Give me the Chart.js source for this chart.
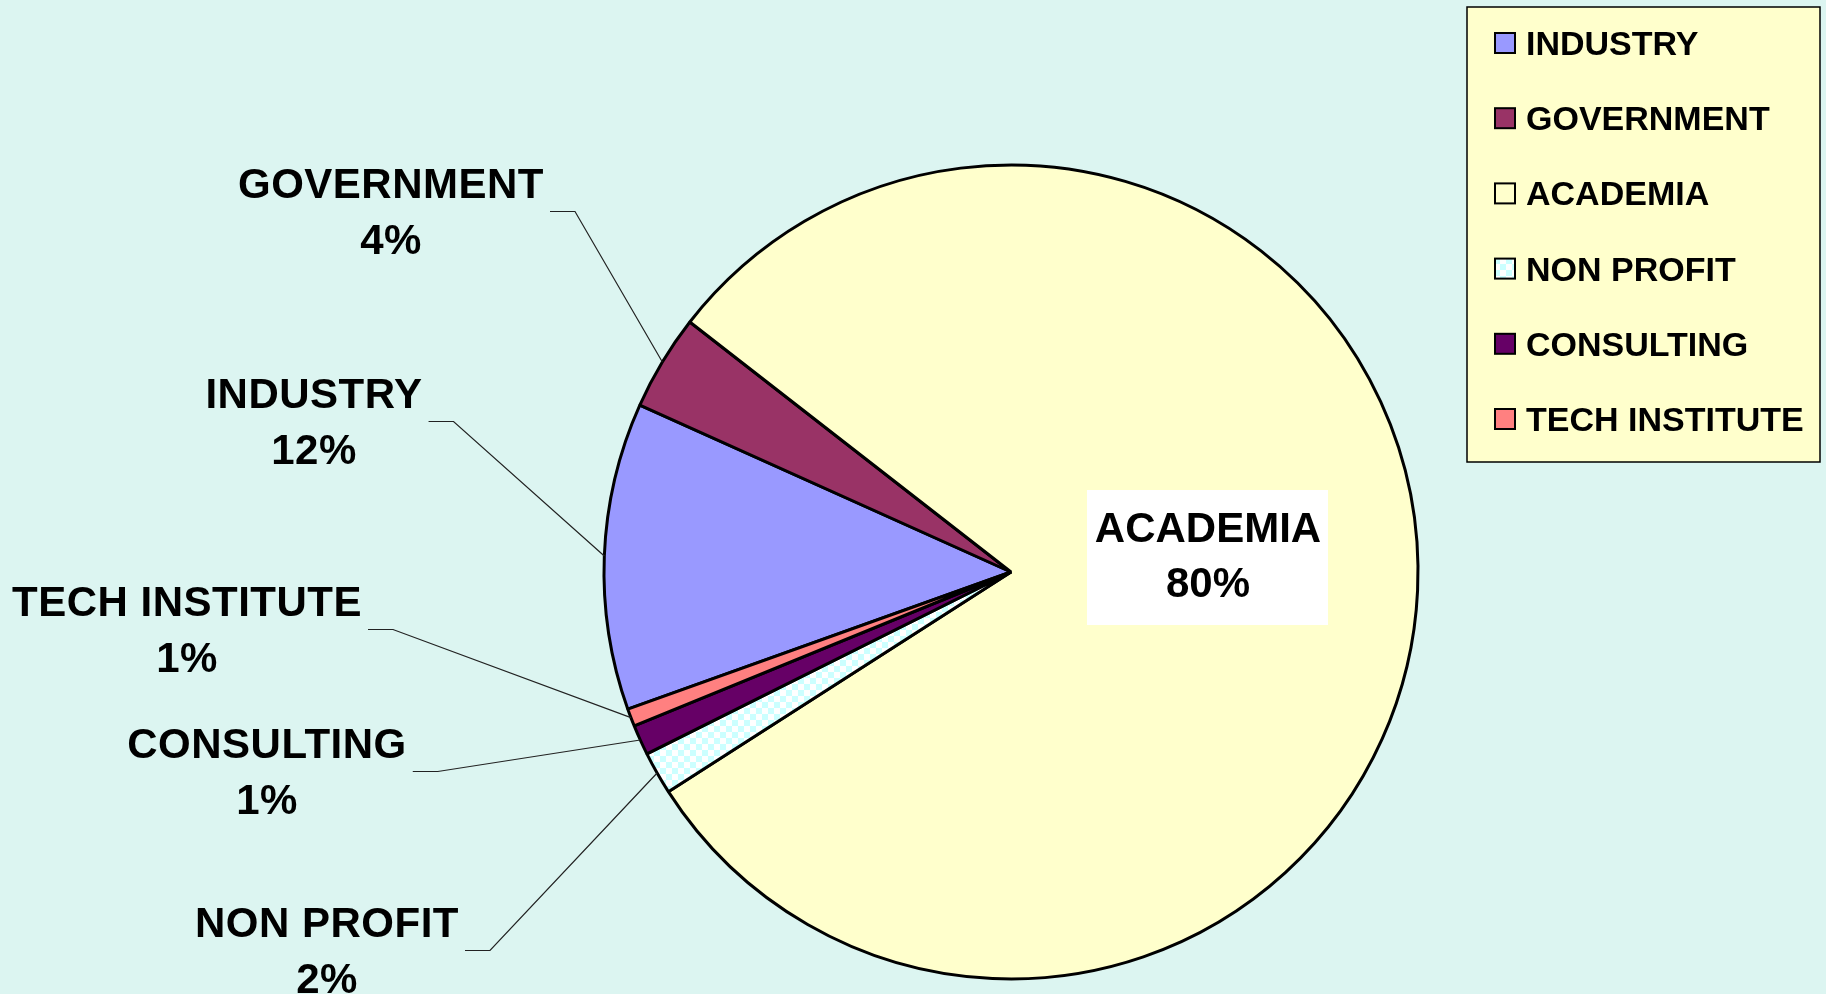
<!DOCTYPE html>
<html>
<head>
<meta charset="utf-8">
<script src="https://cdn.jsdelivr.net/npm/chart.js@4.4.1/dist/chart.umd.min.js"></script>
<style>
  html, body { margin: 0; padding: 0; background: #DCF5F1; }
  #wrap { width: 1826px; height: 994px; position: relative; }
</style>
</head>
<body>
<div id="wrap"><canvas id="pieChart"></canvas></div>
<script>
// Données du graphique
const categories = ['INDUSTRY', 'GOVERNMENT', 'ACADEMIA', 'NON PROFIT', 'CONSULTING', 'TECH INSTITUTE'];
const shares = [12.2, 3.8, 80.4, 1.7, 1.2, 0.7];

// Motif damier pour NON PROFIT
function makeChecker() {
  const c = document.createElement('canvas');
  c.width = 12; c.height = 12;
  const g = c.getContext('2d');
  g.fillStyle = '#FFFFFF';
  g.fillRect(0, 0, 12, 12);
  g.fillStyle = '#CCFFFF';
  g.fillRect(0, 0, 6, 6);
  g.fillRect(6, 6, 6, 6);
  return g.createPattern(c, 'repeat');
}
const checker = makeChecker();
const sliceColors = ['#9999FF', '#993366', '#FFFFCC', checker, '#660066', '#FF8080'];

// Placement des étiquettes extérieures (centre x, y de la 1re ligne)
const labelPos = [[314, 393], [391, 183], null, [327, 922], [267, 743], [187, 601]];

const outerFont = 'bold 42px "Liberation Sans", Arial, sans-serif';

const sliceLabels = {
  id: 'sliceLabels',
  afterDraw(chart) {
    const ctx = chart.ctx;
    const meta = chart.getDatasetMeta(0);
    const total = shares.reduce((a, b) => a + b, 0);
    meta.data.forEach((arc, i) => {
      const pct = Math.round(shares[i] / total * 100) + '%';
      ctx.save();
      ctx.fillStyle = '#000';
      ctx.textAlign = 'center';
      ctx.textBaseline = 'alphabetic';
      if (!labelPos[i]) {
        // étiquette intérieure avec fond blanc
        ctx.fillStyle = '#FFFFFF';
        ctx.fillRect(1087, 490, 241, 135);
        ctx.fillStyle = '#000';
        ctx.font = 'bold 42px "Liberation Sans", Arial, sans-serif';
        ctx.fillText(categories[i], 1208, 527 + 15);
        ctx.fillText(pct, 1208, 582 + 15);
        ctx.restore();
        return;
      }
      const [lx, ly] = labelPos[i];
      ctx.font = outerFont;
      ctx.letterSpacing = '0.5px';
      ctx.fillText(categories[i], lx, ly + 15);
      ctx.fillText(pct, lx, ly + 56 + 15);
      const w = ctx.measureText(categories[i]).width;
      // ligne de rappel
      const mid = (arc.startAngle + arc.endAngle) / 2;
      const ex = arc.x + Math.cos(mid) * arc.outerRadius;
      const ey = arc.y + Math.sin(mid) * arc.outerRadius;
      const sx = lx + w / 2 + 6;
      const sy = ly + 28.5;
      ctx.strokeStyle = '#222';
      ctx.lineWidth = 1.2;
      ctx.beginPath();
      ctx.moveTo(sx, sy);
      ctx.lineTo(sx + 25, sy);
      ctx.lineTo(ex, ey);
      ctx.stroke();
      ctx.restore();
    });
  }
};

const boxLegend = {
  id: 'boxLegend',
  afterDraw(chart) {
    const ctx = chart.ctx;
    ctx.save();
    ctx.fillStyle = '#FFFFCC';
    ctx.fillRect(1467, 7, 353, 455);
    ctx.strokeStyle = '#000';
    ctx.lineWidth = 1.5;
    ctx.strokeRect(1467, 7, 353, 455);
    ctx.font = 'bold 34px "Liberation Sans", Arial, sans-serif';
    ctx.textAlign = 'left';
    ctx.textBaseline = 'alphabetic';
    categories.forEach((name, i) => {
      const cy = 43 + i * 75.2;
      ctx.fillStyle = sliceColors[i];
      ctx.fillRect(1495, cy - 10, 20, 20);
      ctx.lineWidth = 2;
      ctx.strokeStyle = '#000';
      ctx.strokeRect(1495, cy - 10, 20, 20);
      ctx.fillStyle = '#000';
      ctx.fillText(name, 1526, cy + 12);
    });
    ctx.restore();
  }
};

new Chart(document.getElementById('pieChart'), {
  type: 'pie',
  data: {
    labels: categories,
    datasets: [{
      data: shares,
      backgroundColor: sliceColors,
      borderColor: '#000',
      borderWidth: 3,
      hoverOffset: 0
    }]
  },
  options: {
    responsive: true,
    maintainAspectRatio: false,
    animation: false,
    rotation: 250.3,
    radius: 407,
    layout: { padding: { left: 596, right: 400, top: 157, bottom: 7 } },
    plugins: {
      legend: { display: false },
      tooltip: { enabled: false }
    }
  },
  plugins: [sliceLabels, boxLegend]
});
</script>
</body>
</html>
